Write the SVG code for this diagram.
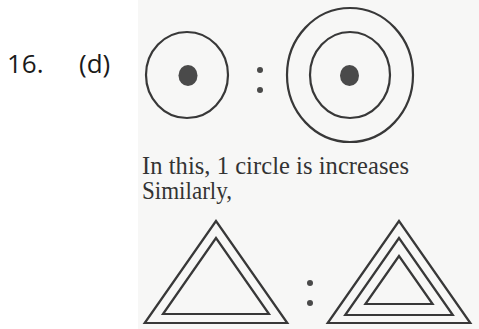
<svg xmlns="http://www.w3.org/2000/svg" width="479" height="329" viewBox="0 0 479 329">
<style>
.ln{fill:none;stroke:#383838;stroke-width:2.2}
.dot{fill:#4a4a4a}
.num{font-family:"Open Sans","Noto Sans",sans-serif;font-size:26px;fill:#1a1a1a}
.txt{font-family:"Liberation Serif","Times New Roman",serif;font-size:24.5px;fill:#333}
</style>
<rect x="0" y="0" width="479" height="329" fill="#fff"/>
<rect x="138" y="0" width="341" height="329" fill="#f7f7f6"/>
<g id="label">
<text class="num" x="7" y="73">16.</text>
<text class="num" x="79" y="73">(d)</text>
</g>
<g id="circle-one">
<ellipse class="ln" cx="187" cy="75" rx="41" ry="43"/>
<ellipse class="dot" cx="188" cy="75.5" rx="9.5" ry="10.5"/>
</g>
<g id="colon-top">
<circle class="dot" cx="260" cy="70" r="3"/>
<circle class="dot" cx="260" cy="90" r="3"/>
</g>
<g id="circle-two">
<ellipse class="ln" cx="350" cy="75" rx="63" ry="67"/>
<ellipse class="ln" cx="350" cy="75" rx="40" ry="43"/>
<ellipse class="dot" cx="349.5" cy="75.5" rx="9.5" ry="10.5"/>
</g>
<g id="caption">
<text class="txt" x="142" y="174" textLength="267" lengthAdjust="spacing">In this, 1 circle is increases</text>
<text class="txt" x="142" y="199" textLength="90" lengthAdjust="spacingAndGlyphs">Similarly,</text>
</g>
<g id="triangle-two">
<polygon class="ln" points="216,221 144.7,323 287.3,323"/>
<polygon class="ln" points="216,238 163,314 269,314"/>
</g>
<g id="colon-bottom">
<circle class="dot" cx="310" cy="283" r="3"/>
<circle class="dot" cx="310" cy="303" r="3"/>
</g>
<g id="triangle-three">
<polygon class="ln" points="399,221 327.7,323 470.3,323"/>
<polygon class="ln" points="399,238 345.2,315 452.8,315"/>
<polygon class="ln" points="399,256 365.4,304 432.6,304"/>
</g>
<g id="connectors"></g>
</svg>
